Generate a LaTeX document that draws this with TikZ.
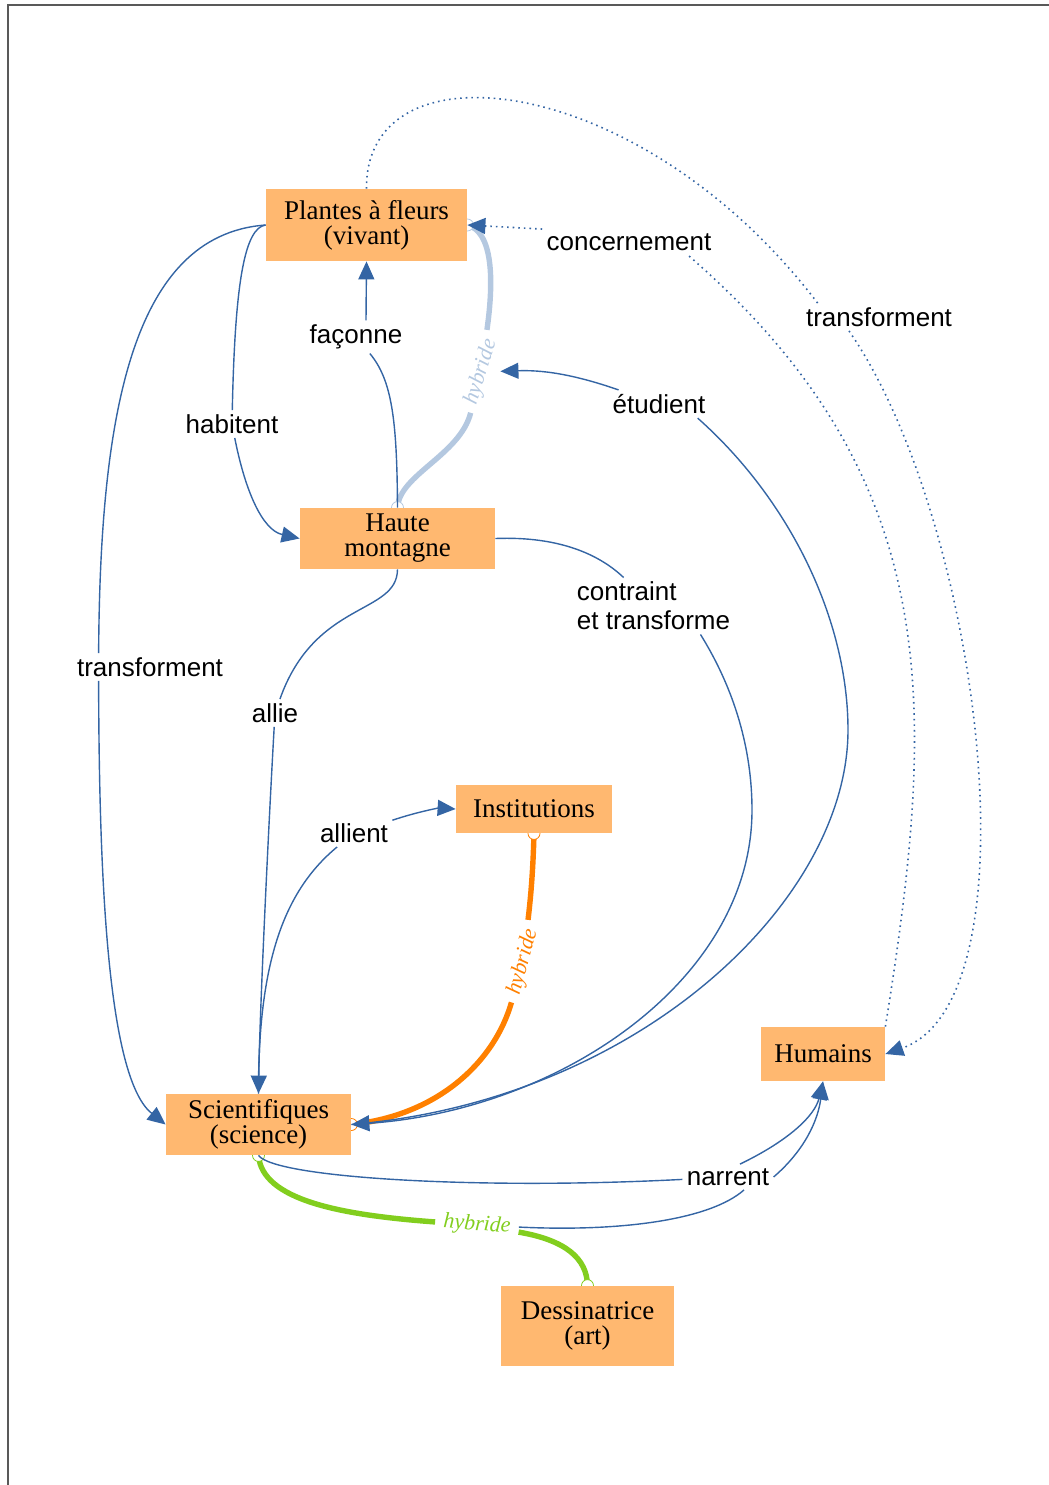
\documentclass[tikz,border=0pt]{standalone}
\usepackage{fontspec}
\setmainfont{Liberation Serif}
\setsansfont{Liberation Sans}
\usetikzlibrary{arrows.meta,positioning,backgrounds}
\definecolor{boxorange}{RGB}{255,184,112}
\definecolor{linkblue}{RGB}{52,101,164}
\definecolor{hybblue}{RGB}{180,200,224}
\definecolor{hyborange}{RGB}{255,128,0}
\definecolor{hybgreen}{RGB}{130,206,30}
\newcommand{\conceptfont}{\fontsize{13.5}{12.5}\selectfont}
\newcommand{\wordfont}{\sffamily\fontsize{13}{14.5}\selectfont}
\newcommand{\hybfont}{\itshape\fontsize{11}{12}\selectfont}

\begin{document}
\begin{tikzpicture}[x=0.5pt,y=-0.5pt,
    concept/.style={fill=boxorange,font=\conceptfont,align=center,inner sep=0pt},
    linkword/.style={font=\wordfont,inner sep=2pt},
    hybword/.style={font=\hybfont,inner sep=4pt},
    link/.style={draw=linkblue,line width=0.7pt},
    tolink/.style={link,-{Triangle[length=9pt,width=8pt]}},
    dotlink/.style={draw=linkblue,line width=0.8pt,dash pattern=on 0.8pt off 2pt},
    hyb/.style={line width=2.7pt},
    endmark/.style={fill=white,line width=0.4pt}]
    \useasboundingbox (0,0) rectangle (1049,1485);
    % page frame
    \draw[black!65,line width=1pt] (8,1485) -- (8,5) -- (1049,5);

    % concepts
    \node[concept,minimum width=100.5pt,minimum height=36pt] (plantes) at (366.5,225) {Plantes à fleurs\\(vivant)};
    \node[concept,minimum width=97.5pt,minimum height=30.5pt] (montagne) at (397.5,538.5) {Haute\\montagne};
    \node[concept,minimum width=78pt,minimum height=24pt] (institutions) at (534,809) {Institutions};
    \node[concept,minimum width=92.5pt,minimum height=30.5pt] (scientifiques) at (258.5,1124.5) {Scientifiques\\(science)};
    \node[concept,minimum width=62pt,minimum height=27pt] (humains) at (823,1054) {Humains};
    \node[concept,minimum width=86.5pt,minimum height=40pt] (dessinatrice) at (587.5,1326) {Dessinatrice\\(art)};

    % linking words
    \node[linkword] (concernement) at (629,242) {concernement};
    \node[linkword] (faconne) at (356,337) {façonne};
    \node[linkword] (transfR) at (879,317) {transforment};
    \node[linkword] (habitent) at (232,424) {habitent};
    \node[linkword] (etudient) at (659,404) {étudient};
    \node[linkword,align=left] (contraint) at (653.5,606) {contraint\\et transforme};
    \node[linkword] (transfL) at (150,667) {transforment};
    \node[linkword] (allie) at (275,713) {allie};
    \node[linkword] (allient) at (354,833) {allient};
    \node[linkword] (narrent) at (728,1177) {narrent};

    % hybrid words
    \node[hybword,text=hybblue,rotate=73] (hybA) at (481,372) {hybride};
    \node[hybword,text=hyborange,rotate=75] (hybB) at (523,962) {hybride};
    \node[hybword,text=hybgreen,rotate=-4] (hybG) at (477,1225) {hybride};

    \begin{scope}[on background layer]
    % hybrid links
    \draw[hyb,hybblue] (montagne.north) .. controls (399,475) and (460,455) .. (hybA);
    \draw[hyb,hybblue] (hybA) .. controls (494,280) and (493,232) .. (plantes.east);
    \draw[hyb,hyborange] (institutions.south) .. controls (533,870) and (531,895) .. (hybB);
    \draw[hyb,hyborange] (hybB) .. controls (495,1060) and (440,1115) .. (scientifiques.east);
    \draw[hyb,hybgreen] (scientifiques.south) .. controls (262,1200) and (340,1215) .. (hybG);
    \draw[hyb,hybgreen] (hybG) .. controls (565,1240) and (587,1258) .. (dessinatrice.north);
    \foreach \pt/\col in {plantes.east/hybblue,montagne.north/hybblue,institutions.south/hyborange,
        scientifiques.east/hyborange,scientifiques.south/hybgreen,dessinatrice.north/hybgreen}
      \draw[endmark,draw=\col] (\pt) circle (3pt);

    % dotted links
    \draw[dotlink,-{Triangle[length=9pt,width=8pt]}] (concernement.north west) -- (plantes.east);
    \draw[dotlink] (humains.north east) .. controls (936,710) and (948,480) .. ([xshift=-14pt]concernement.south east);
    \draw[dotlink] (plantes.north) .. controls (365,40) and (640,70) .. ([xshift=8pt]transfR.north west);
    \draw[dotlink,-{Triangle[length=9pt,width=8pt]}] ([xshift=-15pt]transfR.south) .. controls (980,520) and (1040,1000) .. (humains.east);

    % plain links
    \draw[link] (plantes.west) .. controls (245,228) and (235,280) .. (habitent);
    \draw[tolink] (habitent) .. controls (245,490) and (262,530) .. (montagne.west);
    \draw[link] (plantes.west) .. controls (130,235) and (100,420) .. ([xshift=13pt]transfL.north west);
    \draw[tolink] ([xshift=13pt]transfL.south west) .. controls (99,900) and (110,1080) .. (scientifiques.west);
    \draw[link] (montagne.north) .. controls (397,420) and (392,380) .. (faconne);
    \draw[tolink] ([xshift=5pt]faconne.north) -- (plantes.south);
    \draw[link] (scientifiques.east) .. controls (640,1100) and (848,900) .. (848,730) .. controls (848,620) and (790,500) .. ([xshift=-6pt]etudient.south east);
    \draw[tolink] (etudient) .. controls (570,373) and (540,370) .. (hybA);
    \draw[link] (montagne.east) .. controls (560,536) and (600,555) .. (contraint);
    \draw[tolink] ([xshift=-17pt]contraint.south east) .. controls (735,690) and (752,750) .. (752,810) .. controls (752,980) and (560,1110) .. (scientifiques.east);
    \draw[link] (montagne.south) .. controls (397,615) and (315,600) .. (allie);
    \draw[tolink] (allie) .. controls (270,800) and (260,1000) .. (scientifiques.north);
    \draw[link] (scientifiques.north) .. controls (258,960) and (285,890) .. (allient);
    \draw[tolink] (allient) .. controls (420,811) and (440,808) .. (institutions.west);
    \draw[link] (scientifiques.south) .. controls (275,1178) and (480,1190) .. (narrent);
    \draw[link] (hybG) .. controls (620,1232) and (710,1220) .. ([xshift=8pt]narrent.south);
    \draw[tolink] ([xshift=6pt]narrent.north) .. controls (790,1140) and (815,1115) .. (humains.south);
    \draw[tolink] (narrent.east) .. controls (805,1150) and (818,1120) .. (humains.south);
    \end{scope}
\end{tikzpicture}
\end{document}
